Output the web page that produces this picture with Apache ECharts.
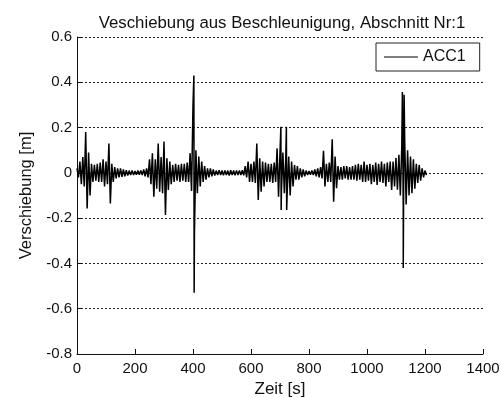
<!DOCTYPE html>
<html>
<head>
<meta charset="utf-8">
<script src="https://cdn.jsdelivr.net/npm/echarts@6/dist/echarts.min.js"></script>
<style>
  html, body { margin: 0; padding: 0; background: #fff; }
  #chart { width: 501px; height: 398px; }
</style>
</head>
<body>
<div id="chart"></div>
<script>
  // envelope of the displacement signal in 10 s bins (t = 0, 10, ... 1200)
  var binStart = 0;
  var binStep = 10;
  var upper = [
    0.02, 0.05, 0.07, 0.18, 0.09, 0.04, 0.035, 0.04, 0.045, 0.06,
    0.05, 0.13, 0.04, 0.025, 0.02, 0.02, 0.015, 0.012, 0.01, 0.01,
    0.008, 0.01, 0.01, 0.015, 0.02, 0.06, 0.086, 0.06, 0.13, 0.07,
    0.138, 0.064, 0.05, 0.035, 0.04, 0.035, 0.04, 0.04, 0.045, 0.087,
    0.30, 0.10, 0.072, 0.05, 0.03, 0.02, 0.02, 0.015, 0.01, 0.012,
    0.01, 0.011, 0.01, 0.012, 0.01, 0.011, 0.01, 0.012, 0.03, 0.05,
    0.04, 0.05, 0.13, 0.064, 0.05, 0.045, 0.04, 0.04, 0.045, 0.108,
    0.09, 0.09, 0.07, 0.072, 0.05, 0.035, 0.03, 0.02, 0.015, 0.01,
    0.008, 0.01, 0.015, 0.02, 0.025, 0.098, 0.04, 0.045, 0.148, 0.072,
    0.03, 0.025, 0.03, 0.03, 0.025, 0.03, 0.035, 0.04, 0.035, 0.05,
    0.035, 0.04, 0.035, 0.045, 0.04, 0.05, 0.04, 0.045, 0.05, 0.05,
    0.066, 0.08, 0.12, 0.145, 0.10, 0.072, 0.06, 0.04, 0.035, 0.02,
    0.01
  ];
  var lower = [
    -0.02, -0.05, -0.06, -0.157, -0.10, -0.04, -0.035, -0.04, -0.04, -0.06,
    -0.05, -0.135, -0.04, -0.025, -0.02, -0.018, -0.015, -0.012, -0.01, -0.01,
    -0.008, -0.008, -0.01, -0.015, -0.02, -0.05, -0.105, -0.07, -0.083, -0.09,
    -0.186, -0.076, -0.05, -0.04, -0.035, -0.04, -0.035, -0.04, -0.04, -0.08,
    -0.267, -0.09, -0.06, -0.04, -0.03, -0.02, -0.015, -0.012, -0.01, -0.01,
    -0.011, -0.01, -0.012, -0.01, -0.011, -0.01, -0.01, -0.011, -0.02, -0.04,
    -0.04, -0.045, -0.12, -0.083, -0.06, -0.04, -0.04, -0.045, -0.04, -0.105,
    -0.08, -0.09, -0.08, -0.10, -0.06, -0.03, -0.03, -0.02, -0.015, -0.01,
    -0.008, -0.01, -0.015, -0.02, -0.025, -0.06, -0.04, -0.04, -0.127, -0.068,
    -0.03, -0.03, -0.025, -0.03, -0.03, -0.03, -0.035, -0.03, -0.04, -0.04,
    -0.035, -0.05, -0.04, -0.053, -0.04, -0.045, -0.06, -0.04, -0.076, -0.06,
    -0.075, -0.10, -0.164, -0.14, -0.10, -0.09, -0.07, -0.045, -0.035, -0.02,
    -0.01
  ];
  // single tall peaks [t, value]
  var spikes = [
    [403, 0.43], [404, -0.53],
    [703, 0.204], [704, -0.164],
    [722, 0.204], [723, -0.164],
    [1122, 0.357], [1125, -0.42], [1128, 0.345]
  ];

  var yTicks = { min: -0.8, max: 0.6, interval: 0.2 };
  var xTicks = { min: 0, max: 1400, interval: 200 };

  // merge envelope zigzag and spikes in time order
  var pts = [];
  for (var i = 0; i < upper.length; i++) {
    var t = binStart + i * binStep;
    pts.push([t, upper[i]]);
    pts.push([t + binStep / 2, lower[i]]);
  }
  spikes.forEach(function (s) { pts.push([s[0], s[1]]); });
  pts.sort(function (a, b) { return a[0] - b[0]; });

  var font = '"Liberation Sans", Arial, Helvetica, sans-serif';
  var chart = echarts.init(document.getElementById('chart'), null, { renderer: 'canvas' });
  chart.setOption({
    animation: false,
    backgroundColor: '#fff',
    title: {
      text: 'Veschiebung aus Beschleunigung, Abschnitt Nr:1',
      left: 277, top: 10, textAlign: 'center',
      textStyle: { fontFamily: font, fontSize: 16.8, fontWeight: 'normal', color: '#111' }
    },
    legend: {
      data: [{ name: 'ACC1', icon: 'rect' }],
      left: 376, top: 43,
      padding: [6, 14, 6, 8],
      itemWidth: 34, itemHeight: 1, itemGap: 6,
      borderColor: '#222', borderWidth: 1,
      backgroundColor: '#fff',
      textStyle: { fontFamily: font, fontSize: 16, color: '#111', lineHeight: 16 }
    },
    grid: { left: 77, right: 18, top: 37, bottom: 44, containLabel: false, outerBoundsMode: 'none' },
    xAxis: {
      type: 'value',
      min: xTicks.min, max: xTicks.max, interval: xTicks.interval,
      name: 'Zeit [s]', nameLocation: 'middle', nameGap: 22,
      nameTextStyle: { fontFamily: font, fontSize: 17, color: '#111' },
      axisLine: { onZero: false, lineStyle: { color: '#111', width: 1 } },
      axisTick: { inside: true, length: 5, lineStyle: { color: '#111' } },
      axisLabel: {
        fontFamily: font, fontSize: 15, color: '#111', margin: 7,
        formatter: function (v) { return String(v); }
      },
      splitLine: { show: false }
    },
    yAxis: {
      type: 'value',
      min: yTicks.min, max: yTicks.max, interval: yTicks.interval,
      name: 'Verschiebung [m]', nameLocation: 'middle', nameGap: 33,
      nameTextStyle: { fontFamily: font, fontSize: 16.5, color: '#111' },
      axisLine: { show: true, onZero: false, lineStyle: { color: '#111', width: 1 } },
      axisTick: { show: true, inside: true, length: 5, lineStyle: { color: '#111' } },
      axisLabel: {
        fontFamily: font, fontSize: 15, color: '#111', margin: 5,
        formatter: function (v) { return String(Math.round(v * 10) / 10); }
      },
      splitLine: { show: true, lineStyle: { color: '#222', width: 1, type: [2, 2] } }
    },
    series: [{
      name: 'ACC1',
      type: 'line',
      data: pts,
      symbol: 'none',
      sampling: null,
      lineStyle: { color: '#000', width: 1.5 },
      itemStyle: { color: '#000' },
      z: 3
    }]
  });
</script>
</body>
</html>
